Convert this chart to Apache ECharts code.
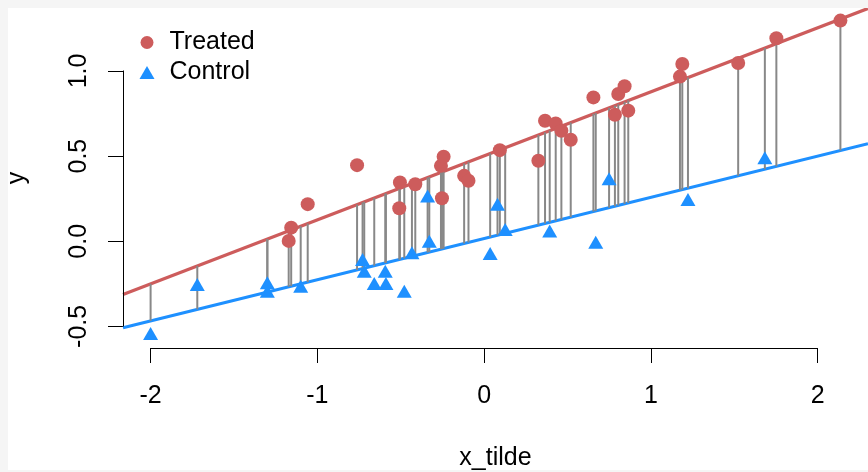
<!DOCTYPE html>
<html>
<head>
<meta charset="utf-8">
<script src="https://cdn.jsdelivr.net/npm/echarts@6/dist/echarts.min.js"></script>
<style>
  html, body { margin: 0; padding: 0; background: #f5f5f5; }
  #chart { position: absolute; left: 8px; top: 8px; width: 860px; height: 462px; background: #fff; }
</style>
</head>
<body>
<div id="chart"></div>
<script>
const treatedX = [-1.172, -1.157, -1.058, -0.762, -0.505, -0.509, -0.413, -0.259, -0.243, -0.253,
  -0.120, -0.094, 0.094, 0.325, 0.365, 0.429, 0.463, 0.519, 0.655, 0.804,
  0.842, 0.784, 0.864, 1.188, 1.174, 1.523, 1.752, 2.136]
const treatedY = [0.002, 0.080, 0.218, 0.447, 0.345, 0.194, 0.335, 0.443, 0.496, 0.253,
  0.384, 0.355, 0.535, 0.473, 0.708, 0.692, 0.649, 0.596, 0.845, 0.865,
  0.910, 0.743, 0.767, 1.041, 0.967, 1.047, 1.192, 1.296]
const controlX = [-2.000, -1.720, -1.300, -1.300, -1.100, -0.729, -0.719, -0.593, -0.659, -0.589,
  -0.479, -0.433, -0.339, -0.329, 0.036, 0.080, 0.126, 0.393, 0.669, 0.749,
  1.222, 1.683]
const controlY = [-0.553, -0.266, -0.256, -0.305, -0.276, -0.119, -0.188, -0.188, -0.260, -0.260,
  -0.305, -0.080, 0.254, -0.011, -0.084, 0.205, 0.058, 0.048, -0.017, 0.356,
  0.234, 0.479]

// fitted lines: [intercept, slope]
const fitTreated = [0.502, 0.376]
const fitControl = [0.016, 0.242]

const xTicks = [-2, -1, 0, 1, 2]
const yTicks = [-0.5, 0, 0.5, 1.0]

const RED = '#CD5C5C'
const BLUE = '#1E90FF'
const FONT = 'Liberation Sans'

// R style axis range: data range + 4% each side
const allX = treatedX.concat(controlX)
const allY = treatedY.concat(controlY)
const pad = (lo, hi) => [lo - (hi - lo) * 0.04, hi + (hi - lo) * 0.04]
const [XMIN, XMAX] = pad(Math.min(...allX), Math.max(...allX))
const [YMIN, YMAX] = pad(Math.min(...allY), Math.max(...allY))

const fit = (c, x) => c[0] + c[1] * x
const zip = (xs, ys) => xs.map((x, i) => [x, ys[i]])
const crisp = v => Math.round(v - 0.5) + 0.5

const chart = echarts.init(document.getElementById('chart'))

chart.setOption({
  animation: false,
  textStyle: { fontFamily: FONT },
  grid: { left: 115, right: 0, top: 0, bottom: 122, containLabel: false, outerBoundsMode: 'none' },
  legend: {
    orient: 'vertical',
    left: 126.5,
    top: 17,
    itemWidth: 15,
    itemHeight: 13,
    itemGap: 5,
    textStyle: { fontSize: 25, color: '#000', fontFamily: FONT, padding: [0, 0, 0, 10] },
    data: [
      { name: 'Treated', icon: 'circle' },
      { name: 'Control', icon: 'triangle' }
    ]
  },
  xAxis: {
    type: 'value',
    min: XMIN,
    max: XMAX,
    name: 'x_tilde',
    nameLocation: 'middle',
    nameGap: 98,
    nameTextStyle: { fontSize: 25, color: '#000', fontFamily: FONT },
    axisLine: { show: false, onZero: false },
    splitLine: { show: false },
    axisTick: { show: true, length: 15, customValues: xTicks, lineStyle: { color: '#000', width: 1 } },
    axisLabel: {
      customValues: xTicks,
      margin: 36,
      fontSize: 25,
      color: '#000',
      fontFamily: FONT,
      formatter: v => String(v).replace('\u2212', '-')
    }
  },
  yAxis: {
    type: 'value',
    min: YMIN,
    max: YMAX,
    name: 'y',
    nameLocation: 'middle',
    nameRotate: 90,
    nameGap: 93,
    nameTextStyle: { fontSize: 25, color: '#000', fontFamily: FONT },
    axisLine: { show: false, onZero: false },
    splitLine: { show: false },
    axisTick: { show: true, length: 15, customValues: yTicks, lineStyle: { color: '#000', width: 1 } },
    axisLabel: {
      customValues: yTicks,
      rotate: 90,
      margin: 31,
      fontSize: 25,
      color: '#000',
      fontFamily: FONT,
      formatter: v => v.toFixed(1)
    }
  },
  series: [
    {
      name: 'fitTreated',
      type: 'line',
      data: [[XMIN, fit(fitTreated, XMIN)], [XMAX, fit(fitTreated, XMAX)]],
      showSymbol: false,
      lineStyle: { color: RED, width: 3.2 },
      z: 1
    },
    {
      name: 'fitControl',
      type: 'line',
      data: [[XMIN, fit(fitControl, XMIN)], [XMAX, fit(fitControl, XMAX)]],
      showSymbol: false,
      lineStyle: { color: BLUE, width: 3.2 },
      z: 1
    },
    {
      // vertical gap between the two fits at each observation
      name: 'gap',
      type: 'custom',
      data: allX.map(x => [x]),
      z: 2,
      renderItem: (params, api) => {
        const x = api.value(0)
        const p1 = api.coord([x, fit(fitControl, x)])
        const p2 = api.coord([x, fit(fitTreated, x)])
        return {
          type: 'line',
          shape: { x1: p1[0], y1: p1[1], x2: p2[0], y2: p2[1] },
          style: { stroke: '#888', lineWidth: 2 }
        }
      }
    },
    {
      name: 'Control',
      type: 'scatter',
      data: zip(controlX, controlY),
      symbol: 'triangle',
      symbolSize: [15, 13],
      symbolOffset: [0, -2],
      itemStyle: { color: BLUE, opacity: 1 },
      z: 3
    },
    {
      name: 'Treated',
      type: 'scatter',
      data: zip(treatedX, treatedY),
      symbol: 'circle',
      symbolSize: 14,
      itemStyle: { color: RED, opacity: 1 },
      z: 3
    },
    {
      // R style axis lines: only between first and last tick
      name: 'axes',
      type: 'custom',
      data: [
        [xTicks[0], YMIN, xTicks[xTicks.length - 1], YMIN],
        [XMIN, yTicks[0], XMIN, yTicks[yTicks.length - 1]]
      ],
      z: 4,
      renderItem: (params, api) => {
        const a = api.coord([api.value(0), api.value(1)])
        const b = api.coord([api.value(2), api.value(3)])
        return {
          type: 'line',
          shape: { x1: crisp(a[0]), y1: crisp(a[1]), x2: crisp(b[0]), y2: crisp(b[1]) },
          style: { stroke: '#000', lineWidth: 1 }
        }
      }
    }
  ]
})
</script>
</body>
</html>
